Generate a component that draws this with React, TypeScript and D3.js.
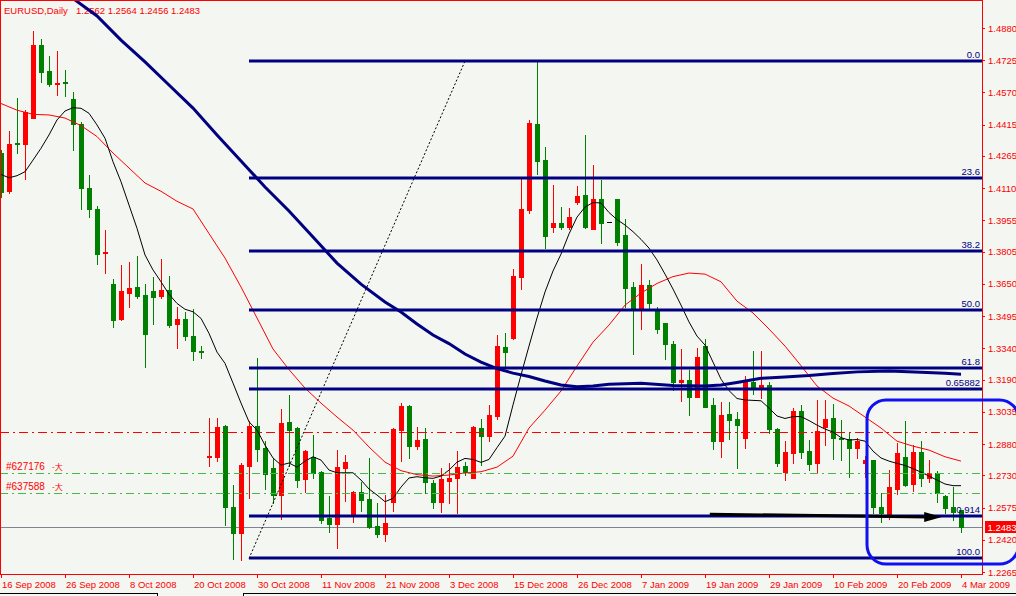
import React from 'react';
import * as d3 from 'd3';

// ---------- DATA ----------
const symbol = 'EURUSD,Daily';
const dateLabels = ['16 Sep 2008', '26 Sep 2008', '8 Oct 2008', '20 Oct 2008', '30 Oct 2008', '11 Nov 2008', '21 Nov 2008', '3 Dec 2008', '15 Dec 2008', '26 Dec 2008', '7 Jan 2009', '19 Jan 2009', '29 Jan 2009', '10 Feb 2009', '20 Feb 2009', '4 Mar 2009'];
const dateBars = [0, 8, 16, 24, 32, 40, 48, 56, 64, 72, 80, 88, 96, 104, 112, 120];
const priceTicks = [1.4880, 1.4725, 1.4570, 1.4415, 1.4265, 1.4110, 1.3955, 1.3805, 1.3650, 1.3495, 1.3340, 1.3190, 1.3035, 1.2880, 1.2730, 1.2575, 1.2420, 1.2265];

const opens = [1.4280, 1.4098, 1.4329, 1.4324, 1.4449, 1.4798, 1.4673, 1.4612, 1.4619, 1.4539, 1.4418, 1.4109, 1.4010, 1.3800, 1.3649, 1.3481, 1.3607, 1.3633, 1.3596, 1.3616, 1.3593, 1.3619, 1.3458, 1.3481, 1.3398, 1.3326, 1.2816, 1.2819, 1.2967, 1.2577, 1.2454, 1.2776, 1.2967, 1.2861, 1.2766, 1.2636, 1.2986, 1.2957, 1.2713, 1.2817, 1.2745, 1.2526, 1.2495, 1.2766, 1.2542, 1.2649, 1.2616, 1.2486, 1.2449, 1.2603, 1.2947, 1.3063, 1.2872, 1.2904, 1.2691, 1.2601, 1.2704, 1.2715, 1.2774, 1.2718, 1.2955, 1.2920, 1.3016, 1.3345, 1.3391, 1.3684, 1.4005, 1.4418, 1.4245, 1.3925, 1.3941, 1.3925, 1.4045, 1.4077, 1.3914, 1.4058, 1.3947, 1.4056, 1.3885, 1.3633, 1.3535, 1.3644, 1.3524, 1.3460, 1.3361, 1.3177, 1.3188, 1.3107, 1.3351, 1.3067, 1.2896, 1.3024, 1.2999, 1.2910, 1.3177, 1.3153, 1.3164, 1.2952, 1.2747, 1.2838, 1.3039, 1.2846, 1.2787, 1.2963, 1.3004, 1.2910, 1.2903, 1.2859, 1.2787, 1.2803, 1.2579, 1.2539, 1.2664, 1.2819, 1.2688, 1.2843, 1.2718, 1.2739, 1.2631, 1.2579, 1.2562];
const highs = [1.4293, 1.4385, 1.4545, 1.4486, 1.4866, 1.4827, 1.4745, 1.4769, 1.4678, 1.4574, 1.4430, 1.4173, 1.4024, 1.3909, 1.3673, 1.3741, 1.3754, 1.3784, 1.3649, 1.3681, 1.3769, 1.3688, 1.3537, 1.3516, 1.3528, 1.3351, 1.3004, 1.3004, 1.2970, 1.2683, 1.2790, 1.2991, 1.3292, 1.2894, 1.2811, 1.3048, 1.3116, 1.2962, 1.2850, 1.2923, 1.2750, 1.2630, 1.2851, 1.2827, 1.2652, 1.2697, 1.2811, 1.2595, 1.2636, 1.2955, 1.3079, 1.3069, 1.2963, 1.2955, 1.2707, 1.2763, 1.2787, 1.2846, 1.2795, 1.2967, 1.2999, 1.3067, 1.3404, 1.3412, 1.3721, 1.4154, 1.4438, 1.4719, 1.4309, 1.4125, 1.4019, 1.4015, 1.4120, 1.4366, 1.4221, 1.4149, 1.3947, 1.4058, 1.3960, 1.3657, 1.3744, 1.3668, 1.3540, 1.3462, 1.3377, 1.3337, 1.3236, 1.3340, 1.3385, 1.3100, 1.3080, 1.3080, 1.3032, 1.3207, 1.3327, 1.3327, 1.3177, 1.2958, 1.2896, 1.3055, 1.3067, 1.2899, 1.3092, 1.3092, 1.3072, 1.2995, 1.2939, 1.2907, 1.2822, 1.2805, 1.2643, 1.2755, 1.2883, 1.2991, 1.2875, 1.2894, 1.2803, 1.2750, 1.2633, 1.2675, 1.2564];
const lows = [1.4069, 1.4088, 1.4278, 1.4153, 1.4449, 1.4622, 1.4601, 1.4558, 1.4555, 1.4293, 1.4008, 1.3973, 1.3744, 1.3701, 1.3441, 1.3478, 1.3540, 1.3580, 1.3252, 1.3455, 1.3583, 1.3444, 1.3343, 1.3381, 1.3284, 1.3295, 1.2774, 1.2797, 1.2491, 1.2326, 1.2322, 1.2622, 1.2800, 1.2662, 1.2595, 1.2521, 1.2776, 1.2675, 1.2649, 1.2715, 1.2499, 1.2458, 1.2381, 1.2607, 1.2506, 1.2558, 1.2478, 1.2431, 1.2415, 1.2558, 1.2800, 1.2814, 1.2856, 1.2643, 1.2574, 1.2555, 1.2598, 1.2547, 1.2731, 1.2715, 1.2779, 1.2896, 1.3000, 1.3252, 1.3385, 1.3625, 1.3992, 1.4178, 1.3824, 1.3901, 1.3914, 1.3914, 1.4034, 1.3920, 1.3912, 1.3848, 1.3947, 1.3837, 1.3540, 1.3311, 1.3431, 1.3532, 1.3412, 1.3287, 1.3140, 1.3088, 1.3019, 1.3105, 1.3057, 1.2854, 1.2819, 1.2903, 1.2763, 1.2859, 1.3119, 1.3100, 1.2931, 1.2774, 1.2707, 1.2787, 1.2811, 1.2755, 1.2742, 1.2875, 1.2806, 1.2803, 1.2723, 1.2814, 1.2723, 1.2550, 1.2506, 1.2519, 1.2640, 1.2678, 1.2655, 1.2680, 1.2699, 1.2600, 1.2550, 1.2515, 1.2456];
const closes = [1.4093, 1.4322, 1.4321, 1.4475, 1.4798, 1.4670, 1.4611, 1.4616, 1.4614, 1.4417, 1.4112, 1.4008, 1.3795, 1.3803, 1.3478, 1.3616, 1.3629, 1.3593, 1.3410, 1.3588, 1.3619, 1.3452, 1.3481, 1.3401, 1.3329, 1.3321, 1.2821, 1.2960, 1.2579, 1.2454, 1.2780, 1.2967, 1.2857, 1.2736, 1.2635, 1.2981, 1.2947, 1.2707, 1.2846, 1.2739, 1.2515, 1.2497, 1.2771, 1.2793, 1.2649, 1.2611, 1.2482, 1.2449, 1.2500, 1.2952, 1.3063, 1.2870, 1.2899, 1.2699, 1.2603, 1.2710, 1.2717, 1.2771, 1.2747, 1.2960, 1.2920, 1.3019, 1.3351, 1.3324, 1.3688, 1.4008, 1.4422, 1.4242, 1.3881, 1.3941, 1.3925, 1.3971, 1.4072, 1.3925, 1.4058, 1.3944, 1.3947, 1.3853, 1.3631, 1.3535, 1.3644, 1.3559, 1.3431, 1.3359, 1.3180, 1.3188, 1.3107, 1.3297, 1.3059, 1.2896, 1.3019, 1.2995, 1.2971, 1.3177, 1.3153, 1.3164, 1.2951, 1.2787, 1.2843, 1.3039, 1.2843, 1.2784, 1.2942, 1.2999, 1.2910, 1.2903, 1.2859, 1.2894, 1.2803, 1.2579, 1.2547, 1.2675, 1.2838, 1.2683, 1.2843, 1.2718, 1.2739, 1.2643, 1.2574, 1.2553, 1.2483];

// fast moving average (black), one value per bar
const maFast = [1.4176, 1.4160, 1.4170, 1.4189, 1.4245, 1.4302, 1.4366, 1.4438, 1.4481, 1.4497, 1.4494, 1.4470, 1.4414, 1.4350, 1.4237, 1.4141, 1.4029, 1.3917, 1.3789, 1.3717, 1.3660, 1.3600, 1.3556, 1.3528, 1.3516, 1.3484, 1.3412, 1.3322, 1.3268, 1.3173, 1.3077, 1.2987, 1.2947, 1.2875, 1.2813, 1.2779, 1.2789, 1.2769, 1.2798, 1.2819, 1.2803, 1.2755, 1.2742, 1.2742, 1.2742, 1.2707, 1.2664, 1.2635, 1.2603, 1.2619, 1.2673, 1.2717, 1.2723, 1.2718, 1.2715, 1.2726, 1.2755, 1.2793, 1.2811, 1.2806, 1.2792, 1.2806, 1.2863, 1.2918, 1.3068, 1.3212, 1.3351, 1.3486, 1.3611, 1.3712, 1.3793, 1.3890, 1.3971, 1.4019, 1.4041, 1.4039, 1.3993, 1.3959, 1.3933, 1.3901, 1.3864, 1.3822, 1.3765, 1.3697, 1.3625, 1.3548, 1.3467, 1.3399, 1.3356, 1.3274, 1.3192, 1.3137, 1.3099, 1.3092, 1.3090, 1.3088, 1.3053, 1.3015, 1.3003, 1.3012, 1.3012, 1.2993, 1.2971, 1.2952, 1.2938, 1.2911, 1.2899, 1.2902, 1.2894, 1.2846, 1.2813, 1.2798, 1.2787, 1.2777, 1.2762, 1.2745, 1.2726, 1.2707, 1.2688, 1.2680, 1.2680];

// medium moving average (red): [bar, price]
const maMid: [number, number][] = [[0, 1.4517], [2, 1.4485], [4, 1.4465], [6, 1.4462], [8, 1.4447], [10, 1.4411], [12, 1.4358], [14, 1.4279], [16, 1.4207], [18, 1.4135], [20, 1.4095], [22, 1.4047], [24, 1.4010], [26, 1.3892], [28, 1.3774], [30, 1.3635], [32, 1.3486], [34, 1.3337], [36, 1.3238], [38, 1.3149], [40, 1.3077], [42, 1.3010], [44, 1.2947], [46, 1.2866], [48, 1.2793], [50, 1.2752], [52, 1.2733], [54, 1.2726], [56, 1.2731], [58, 1.2741], [60, 1.2747], [62, 1.2769], [64, 1.2822], [66, 1.2957], [68, 1.3043], [70, 1.3135], [72, 1.3255], [74, 1.3370], [76, 1.3452], [78, 1.3548], [80, 1.3606], [82, 1.3652], [84, 1.3685], [86, 1.3702], [88, 1.3697], [90, 1.3660], [92, 1.3567], [94, 1.3510], [96, 1.3433], [98, 1.3351], [100, 1.3257], [102, 1.3159], [104, 1.3101], [106, 1.3063], [108, 1.3010], [110, 1.2957], [112, 1.2894], [114, 1.2870], [116, 1.2851], [118, 1.2819], [120, 1.2798]];

// slow moving average (thick navy): [bar, price]
const maSlow: [number, number][] = [[7, 1.5077], [9, 1.5022], [12, 1.4938], [15, 1.4822], [18, 1.4717], [21, 1.4606], [24, 1.4495], [27, 1.4366], [30, 1.4241], [33, 1.4116], [36, 1.4000], [39, 1.3875], [42, 1.3750], [45, 1.3649], [48, 1.3563], [50, 1.3515], [52, 1.3457], [54, 1.3404], [56, 1.3363], [58, 1.3313], [60, 1.3274], [62, 1.3243], [64, 1.3221], [66, 1.3205], [68, 1.3183], [70, 1.3164], [72, 1.3156], [74, 1.3159], [76, 1.3168], [80, 1.3172], [84, 1.3162], [88, 1.3159], [90, 1.3164], [92, 1.3176], [95, 1.3196], [98, 1.3202], [101, 1.3209], [104, 1.3219], [107, 1.3227], [111, 1.3231], [115, 1.3225], [118, 1.3220], [120, 1.3215]];

// Fibonacci retracement
const fibHigh = 1.4721;
const fibLow = 1.2330;
const fibStartBar = 31;
const fibTopBar = 58;
const fibRatios = [0, 0.236, 0.382, 0.5, 0.618, 0.65882, 0.914, 1.0];
const fibLabels = ['0.0', '23.6', '38.2', '50.0', '61.8', '0.65882', '0.914', '100.0'];

// horizontal objects
const redLevel = 1.2938;
const greenLevels = [1.2740, 1.2644];
const greenLabels = ['#627176', '#637588'];
const bidPrice = 1.2483;

// black arrow [bar, price]
const arrowPts: [number, number][] = [[88.6, 1.2543], [115.9, 1.2529]];
const arrowTipBar = 117.6;

// highlight box: bars & prices
const boxBars = [108.25, 127.2];
const boxPrices = [1.3092, 1.2303];

export default function App() {
  const lastBar = closes.length - 1;
  const x = d3.scaleLinear().domain([0, lastBar]).range([1, 961]);
  const y = d3.scaleLinear().domain([1.2265, 1.4880]).range([572, 28]);
  const axisX = 982;
  const axisY = 574;
  const font = "'Liberation Sans', Arial, sans-serif";
  const red = '#ff0000';
  const navy = '#000080';

  const lineFast = d3.line<number>().x((_, i) => x(i)).y((d) => y(d));
  const linePair = d3.line<[number, number]>().x((d) => x(d[0])).y((d) => y(d[1]));

  const fibX0 = x(fibStartBar);
  const fibRange = fibHigh - fibLow;

  const bull = '#ff0000';
  const bear = '#008000';

  const candles = opens.map((o, i) => {
    const c = closes[i];
    const h = highs[i];
    const l = lows[i];
    const cx = Math.round(x(i));
    const col = c > o ? bull : c < o ? bear : '#000000';
    const yTop = Math.round(y(Math.max(o, c)));
    const yBot = Math.round(y(Math.min(o, c)));
    const yH = Math.round(y(h));
    const yL = Math.round(y(l));
    return (
      <g key={i}>
        <rect x={cx} y={yH} width={1} height={Math.max(1, yL - yH + 1)} fill={col} />
        <rect x={cx - 2} y={yTop} width={5} height={Math.max(1, yBot - yTop + (yBot - yTop > 0 ? 1 : 0))} fill={col} />
      </g>
    );
  });

  const arrowEnd = arrowPts[arrowPts.length - 1];
  const tipX = x(arrowTipBar);
  const aY = y(arrowEnd[1]);
  const aX = x(arrowEnd[0]);

  return (
    <svg width={1016} height={596} viewBox="0 0 1016 596" style={{ position: 'absolute', left: 0, top: 0, display: 'block' }}>
      <defs>
        <clipPath id="plot">
          <rect x={0} y={0} width={axisX} height={axisY} />
        </clipPath>
      </defs>
      <rect x={0} y={0} width={1016} height={596} fill="#f4f6f2" />

      {/* title */}
      <text x={4} y={13.5} fontFamily={font} fontSize={9.5} fill={red}>{symbol}</text>
      <text x={76} y={13.5} fontFamily={font} fontSize={9.5} fill={red}>
        {[opens[lastBar], highs[lastBar], lows[lastBar], closes[lastBar]].map((v) => v.toFixed(4)).join(' ')}
      </text>

      <g clipPath="url(#plot)">
        {/* bid line */}
        <line x1={0} x2={axisX} y1={Math.round(y(bidPrice)) + 0.5} y2={Math.round(y(bidPrice)) + 0.5} stroke="#7d8595" strokeWidth={1} />

        {/* candles */}
        <g shapeRendering="crispEdges">{candles}</g>

        {/* moving averages */}
        <path d={linePair(maMid) || ''} fill="none" stroke={red} strokeWidth={1} />
        <path d={lineFast(maFast) || ''} fill="none" stroke="#000" strokeWidth={1} />
        <path d={linePair(maSlow) || ''} fill="none" stroke={navy} strokeWidth={3} />

        {/* horizontal objects */}
        <line x1={0} x2={axisX} y1={Math.round(y(redLevel)) + 0.5} y2={Math.round(y(redLevel)) + 0.5} stroke={red} strokeWidth={1} strokeDasharray="9,4,2,4" />
        {greenLevels.map((p, k) => (
          <g key={k}>
            <line x1={0} x2={axisX} y1={Math.round(y(p)) + 0.5} y2={Math.round(y(p)) + 0.5} stroke="#44bb44" strokeWidth={1} strokeDasharray="8,4,2,4" />
            <text x={6} y={Math.round(y(p)) - 3} fontFamily={font} fontSize={10} fill={red}>{greenLabels[k]}</text>
            <text x={52} y={Math.round(y(p)) - 3} fontFamily="'Noto Sans CJK SC', sans-serif" fontSize={8} fill={red}>-大</text>
          </g>
        ))}

        {/* fibonacci */}
        <line x1={fibX0} y1={y(fibLow)} x2={x(fibTopBar)} y2={y(fibHigh)} stroke="#000" strokeWidth={1} strokeDasharray="2,2" />
        {fibRatios.map((r, k) => {
          const py = Math.round(y(fibHigh - r * fibRange));
          return (
            <g key={k}>
              <line x1={fibX0} x2={axisX} y1={py} y2={py} stroke={navy} strokeWidth={3} />
              <text x={980} y={py - 3} textAnchor="end" fontFamily={font} fontSize={9.5} fill={navy}>{fibLabels[k]}</text>
            </g>
          );
        })}

        {/* arrow */}
        <path d={linePair(arrowPts) || ''} fill="none" stroke="#000" strokeWidth={3} />
        <path d={`M${aX - 4},${aY - 5} L${tipX},${aY} L${aX - 4},${aY + 5} Z`} fill="#000" />
      </g>

      {/* frame & axes */}
      <g shapeRendering="crispEdges">
        <line x1={0.5} x2={0.5} y1={0} y2={axisY} stroke={red} />
        <line x1={0} x2={axisX} y1={0.5} y2={0.5} stroke={red} />
        <line x1={axisX + 0.5} x2={axisX + 0.5} y1={0} y2={axisY + 1} stroke={red} />
        <line x1={0} x2={axisX + 1} y1={axisY + 0.5} y2={axisY + 0.5} stroke={red} />
        {priceTicks.map((p, k) => (
          <line key={k} x1={axisX} x2={axisX + 3} y1={Math.round(y(p)) + 0.5} y2={Math.round(y(p)) + 0.5} stroke={red} />
        ))}
        {dateBars.map((b, k) => (
          <line key={k} x1={Math.round(x(b)) + 0.5} x2={Math.round(x(b)) + 0.5} y1={axisY} y2={axisY + 4} stroke={red} />
        ))}
      </g>
      {priceTicks.map((p, k) => (
        <text key={k} x={988} y={y(p) + 3.5} fontFamily={font} fontSize={9.5} fill={red}>{p.toFixed(4)}</text>
      ))}
      {dateBars.map((b, k) => (
        <text key={k} x={Math.round(x(b)) + 1} y={588} fontFamily={font} fontSize={9.5} fill={red}>{dateLabels[k]}</text>
      ))}

      {/* bid label */}
      <rect x={985} y={Math.round(y(bidPrice)) - 6} width={31} height={12} fill={red} />
      <text x={987.5} y={Math.round(y(bidPrice)) + 3.5} fontFamily={font} fontSize={9.5} fill="#fff">{bidPrice.toFixed(4)}</text>

      {/* highlight box */}
      <rect x={x(boxBars[0])} y={y(boxPrices[0])} width={x(boxBars[1]) - x(boxBars[0])} height={y(boxPrices[1]) - y(boxPrices[0])} rx={19} ry={19} fill="none" stroke="#1010f0" strokeWidth={3} />

      {/* tab bar */}
      <g shapeRendering="crispEdges">
        <line x1={0} x2={157} y1={593.5} y2={593.5} stroke="#000" />
        <line x1={243} x2={1016} y1={593.5} y2={593.5} stroke="#000" />
        <line x1={157.5} x2={157.5} y1={593} y2={596} stroke="#000" />
        <line x1={243.5} x2={243.5} y1={593} y2={596} stroke="#000" />
      </g>
    </svg>
  );
}
